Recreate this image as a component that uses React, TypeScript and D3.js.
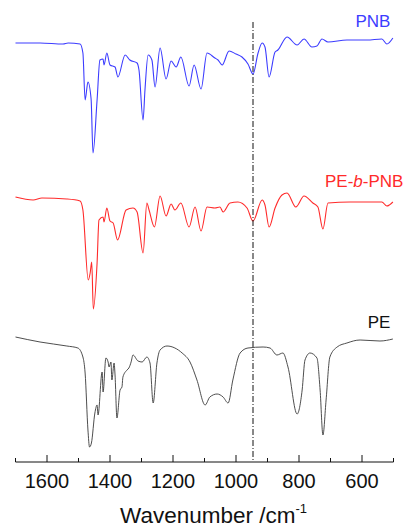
import { useEffect, useRef } from "react"
import * as d3 from "d3"

// FTIR spectra, [wavenumber cm-1, transmittance a.u. (stacked)]
const pnb: [number, number][] = [
    [1700, 41.7], [1622, 41.7], [1549, 41.6], [1533, 41.7], [1495, 41.6], [1486, 40.7],
    [1479, 36.0], [1470, 37.8], [1460, 36.1], [1454, 30.7], [1441, 36.0], [1432, 40.0],
    [1422, 40.1], [1419, 39.5], [1410, 40.7], [1400, 39.5], [1384, 39.3], [1375, 38.3],
    [1352, 40.5], [1337, 40.0], [1314, 39.7], [1308, 39.0], [1295, 34.0], [1289, 37.0],
    [1279, 40.5], [1267, 40.0], [1257, 37.3], [1241, 41.2], [1222, 38.1], [1206, 39.9],
    [1190, 39.3], [1175, 40.3], [1149, 37.4], [1133, 39.5], [1111, 37.1], [1092, 40.7],
    [1067, 40.2], [1057, 40.0], [1044, 39.5], [1022, 40.9], [1000, 40.6], [981, 40.3],
    [962, 39.6], [946, 38.6], [930, 40.7], [917, 41.7], [908, 41.3], [895, 38.3],
    [876, 40.8], [867, 41.0], [838, 42.3], [806, 41.5], [784, 42.1], [759, 41.3],
    [743, 41.4], [727, 42.1], [708, 41.8], [648, 42.0], [584, 42.0], [537, 42.1],
    [521, 41.6], [502, 42.2],
]

const pePnb: [number, number][] = [
    [1700, 26.3], [1644, 26.0], [1616, 26.2], [1537, 26.1], [1495, 25.9], [1486, 25.0],
    [1469, 18.0], [1463, 18.7], [1458, 19.8], [1453, 15.1], [1441, 19.7], [1435, 24.0],
    [1422, 24.3], [1419, 23.8], [1410, 25.2], [1400, 23.9], [1390, 23.7], [1376, 22.0],
    [1349, 25.0], [1327, 25.2], [1314, 24.8], [1295, 20.7], [1283, 25.7], [1276, 25.0],
    [1259, 23.3], [1241, 26.4], [1222, 24.4], [1206, 25.6], [1194, 25.0], [1175, 25.7],
    [1149, 23.3], [1130, 25.3], [1111, 22.9], [1092, 25.3], [1067, 25.2], [1051, 25.3],
    [1041, 24.8], [1019, 25.7], [994, 25.8], [965, 25.2], [946, 23.9], [917, 26.0],
    [908, 25.5], [895, 23.3], [876, 25.2], [854, 26.5], [838, 26.7], [810, 25.3],
    [784, 26.4], [756, 25.7], [740, 25.3], [724, 23.1], [708, 25.7], [638, 25.8],
    [584, 25.8], [537, 25.8], [521, 25.4], [502, 25.8],
]

const pe: [number, number][] = [
    [1700, 12.3], [1622, 11.8], [1537, 11.4], [1502, 11.2], [1486, 10.3], [1479, 8.7],
    [1470, 3.0], [1465, 1.3], [1459, 1.7], [1448, 4.7], [1441, 5.5], [1438, 4.5],
    [1425, 8.8], [1422, 6.8], [1413, 10.2], [1406, 9.8], [1403, 9.3], [1397, 9.8],
    [1394, 8.0], [1387, 9.7], [1384, 8.5], [1378, 4.2], [1368, 7.0], [1362, 7.3],
    [1359, 8.3], [1346, 9.0], [1340, 9.2], [1333, 9.8], [1327, 10.5], [1311, 9.9],
    [1298, 9.8], [1283, 10.3], [1273, 9.7], [1263, 5.7], [1251, 9.7], [1241, 11.0],
    [1219, 11.4], [1194, 11.2], [1171, 10.7], [1146, 9.8], [1124, 8.0], [1098, 5.5],
    [1083, 6.3], [1060, 6.6], [1041, 6.3], [1025, 5.7], [1010, 8.0], [987, 10.7],
    [962, 11.2], [914, 11.3], [892, 11.2], [870, 10.5], [851, 10.7], [835, 9.3],
    [806, 4.6], [790, 7.0], [781, 10.0], [765, 10.7], [743, 10.2], [733, 7.0],
    [724, 2.5], [714, 6.0], [702, 10.3], [679, 11.3], [648, 11.7], [606, 12.0],
    [543, 11.9], [502, 12.1],
]

const seriesNames = ["PNB", "PE-b-PNB", "PE"]
const seriesColors = ["#3c3cff", "#ff2a2a", "#3a3a3a"]
const majorTicks = [1600, 1400, 1200, 1000, 800, 600]
const minorTicks = [1700, 1500, 1300, 1100, 900, 700, 500]
const markerWn = 946

export default function App() {
    const ref = useRef<SVGSVGElement>(null)

    useEffect(() => {
        const width = 404
        const height = 527
        const svg = d3.select(ref.current)
        svg.selectAll("*").remove()

        const x = d3.scaleLinear().domain([1700, 500]).range([15.5, 393.5])
        const y = d3.scaleLinear().domain([0, 44]).range([460, 20])
        const axisY = 462

        const line = d3.line<[number, number]>()
            .x(d => x(d[0]))
            .y(d => y(d[1]))
            .curve(d3.curveMonotoneX)

        const data = [pnb, pePnb, pe]
        svg.append("g")
            .selectAll("path")
            .data(data)
            .join("path")
                .attr("fill", "none")
                .attr("stroke", (_, i) => seriesColors[i])
                .attr("stroke-width", (_, i) => i === 2 ? 0.9 : 1.1)
                .attr("stroke-linejoin", "round")
                .attr("d", d => line(d))

        // dash-dot marker line
        svg.append("line")
            .attr("x1", x(markerWn)).attr("x2", x(markerWn))
            .attr("y1", y(43.8)).attr("y2", axisY)
            .attr("stroke", "#111")
            .attr("stroke-width", 1)
            .attr("stroke-dasharray", "6,2,1,2")

        // bottom axis
        const ax = svg.append("g").attr("stroke", "#111").attr("stroke-width", 1)
        ax.append("line")
            .attr("x1", x(1700)).attr("x2", x(500))
            .attr("y1", axisY).attr("y2", axisY)
        ax.selectAll(".maj")
            .data(majorTicks)
            .join("line")
                .attr("class", "maj")
                .attr("x1", d => x(d)).attr("x2", d => x(d))
                .attr("y1", axisY).attr("y2", axisY - 7)
        ax.selectAll(".min")
            .data(minorTicks)
            .join("line")
                .attr("class", "min")
                .attr("x1", d => x(d)).attr("x2", d => x(d))
                .attr("y1", axisY).attr("y2", axisY - 4)

        svg.append("g")
                .attr("font-family", "Liberation Sans, Arial, sans-serif")
                .attr("font-size", 20)
                .attr("fill", "#111")
                .attr("text-anchor", "middle")
            .selectAll("text")
            .data(majorTicks)
            .join("text")
                .attr("x", d => x(d))
                .attr("y", 488)
                .text(d => d)

        const title = svg.append("text")
            .attr("font-family", "Liberation Sans, Arial, sans-serif")
            .attr("font-size", 22.5)
            .attr("fill", "#111")
            .attr("text-anchor", "middle")
            .attr("x", x(1100) + 9)
            .attr("y", 523)
        title.append("tspan").text("Wavenumber /cm")
        title.append("tspan").attr("font-size", 13).attr("dy", -10).text("-1")

        // series labels
        const lab = svg.append("g")
            .attr("font-family", "Liberation Sans, Arial, sans-serif")
            .attr("font-size", 17)
        lab.append("text")
            .attr("x", x(510)).attr("y", 27)
            .attr("text-anchor", "end")
            .attr("fill", seriesColors[0])
            .text(seriesNames[0])
        const mid = lab.append("text")
            .attr("x", x(1000) + 89).attr("y", 187)
            .attr("fill", seriesColors[1])
        mid.append("tspan").text("PE-")
        mid.append("tspan").attr("font-style", "italic").text("b")
        mid.append("tspan").text("-PNB")
        lab.append("text")
            .attr("x", x(510)).attr("y", 328)
            .attr("text-anchor", "end")
            .attr("fill", "#111")
            .text(seriesNames[2])

        svg.attr("width", width).attr("height", height)
    }, [])

    return (
        <svg ref={ref} width={404} height={527}
            style={{ position: "absolute", left: 0, top: 0, background: "#fff", overflow: "hidden" }} />
    )
}
